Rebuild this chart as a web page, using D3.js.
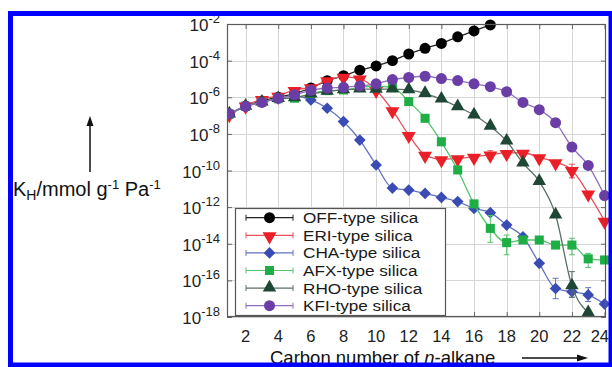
<!DOCTYPE html>
<html>
<head>
<meta charset="utf-8">
<script src="https://cdn.jsdelivr.net/npm/d3@7"></script>
<style>
  html, body { margin: 0; padding: 0; background: #fff; }
  svg { display: block; }
  text { font-family: "Liberation Sans", Arial, Helvetica, sans-serif; }
</style>
</head>
<body>
<svg id="chart" width="612" height="367"></svg>
<script>
// Carbon number of the n-alkane
const carbon = d3.range(1, 25);

// Henry coefficients K_H (mmol g^-1 Pa^-1) per framework type
const offValues = [1.2e-7, 3.3e-7, 6.3e-7, 1.0e-6, 1.6e-6, 3.2e-6, 8.0e-6, 1.5e-5, 3.0e-5, 5.1e-5, 1.0e-4, 2.3e-4, 4.7e-4, 8.7e-4, 2.0e-3, 4.2e-3, 8.9e-3];
const eriValues = [1.2e-7, 3.5e-7, 7.9e-7, 1.2e-6, 2.5e-6, 3.5e-6, 8.3e-6, 1.3e-5, 1.05e-5, 2.5e-6, 1.95e-7, 8.7e-9, 7.1e-10, 4.1e-10, 4.7e-10, 5.6e-10, 7.4e-10, 9.1e-10, 9.3e-10, 5.2e-10, 2.8e-10, 1.07e-10, 5.6e-12, 1.8e-13];
const chaValues = [1.2e-7, 3.2e-7, 5.4e-7, 8.7e-7, 1.2e-6, 7.1e-7, 2.5e-7, 4.7e-8, 4.6e-9, 2.0e-10, 1.1e-11, 8.5e-12, 5.6e-12, 3.4e-12, 2.0e-12, 8.5e-13, 5.0e-13, 1.05e-13, 2.4e-14, 8.5e-16, 3.6e-17, 2.4e-17, 1.6e-17, 5.1e-18];
const afxValues = [1.2e-7, 3.2e-7, 5.4e-7, 8.3e-7, 8.9e-7, 1.6e-6, 2.3e-6, 2.5e-6, 3.5e-6, 4.0e-6, 3.5e-6, 5.8e-7, 7.1e-8, 3.7e-9, 1.07e-10, 1.5e-12, 6.9e-14, 1.15e-14, 1.6e-14, 1.6e-14, 8.5e-15, 8.5e-15, 1.5e-15, 1.3e-15];
const rhoValues = [1.2e-7, 3.2e-7, 5.4e-7, 8.3e-7, 9.3e-7, 1.5e-6, 2.1e-6, 2.5e-6, 2.8e-6, 2.7e-6, 2.8e-6, 2.5e-6, 1.6e-6, 7.8e-7, 3.0e-7, 1.07e-7, 2.6e-8, 4.0e-9, 2.5e-10, 2.5e-11, 3.7e-13, 5.0e-17, 1.7e-18];
const kfiValues = [1.26e-7, 3.2e-7, 5.2e-7, 8.7e-7, 1.35e-6, 2.4e-6, 3.2e-6, 3.5e-6, 4.2e-6, 5.4e-6, 9.3e-6, 1.2e-5, 1.4e-5, 1.05e-5, 8.1e-6, 5.4e-6, 3.8e-6, 2.0e-6, 5.2e-7, 2.1e-7, 4.1e-8, 1.9e-9, 1.9e-10, 4.3e-12];

// Error bars: [carbon number, lower, upper]
const eriErrors = [[17, 4.5e-10, 1.2e-9], [22, 4e-11, 2.2e-10]];
const chaErrors = [[21, 1.0e-17, 1.3e-16], [22, 1.2e-17, 6e-17], [23, 7e-18, 4e-17]];
const afxErrors = [[17, 1.2e-14, 3.5e-13], [18, 2.5e-15, 3e-14], [22, 2.5e-15, 2e-14], [23, 5e-16, 3e-15]];
const rhoErrors = [[22, 1.2e-17, 3e-16]];

const seriesNames = ["OFF-type silica", "ERI-type silica", "CHA-type silica", "AFX-type silica", "RHO-type silica", "KFI-type silica"];
const seriesValues = [offValues, eriValues, chaValues, afxValues, rhoValues, kfiValues];
const seriesErrors = [[], eriErrors, chaErrors, afxErrors, rhoErrors, []];
const seriesColors = ["#000000", "#ea1f27", "#3a4cb4", "#1fae45", "#1f4736", "#6a3ea6"];
const lineColors = ["#222222", "#e8505a", "#6272c0", "#52c46a", "#5c6f66", "#8f70bf"];
const seriesShapes = ["circle", "triangleDown", "diamond", "square", "triangleUp", "circle"];

// Axis ticks
const xTicks = d3.range(2, 25, 2);
const yExponents = [-2, -4, -6, -8, -10, -12, -14, -16, -18];

const svg = d3.select("#chart");
const plot = { left: 227, right: 606, top: 24, bottom: 317 };

const x = d3.scaleLinear().domain([0.86, 24.09]).range([plot.left, plot.right]);
const y = d3.scaleLog().domain([1e-18, 1e-2]).range([plot.bottom, plot.top]);

// Grid
const grid = svg.append("g").attr("stroke", "#d6d6d6").attr("stroke-width", 1);
grid.selectAll("line.gx").data(xTicks).join("line")
  .attr("x1", d => Math.round(x(d)) + 0.5).attr("x2", d => Math.round(x(d)) + 0.5)
  .attr("y1", plot.top).attr("y2", plot.bottom);
grid.selectAll("line.gy").data(yExponents).join("line")
  .attr("y1", d => Math.round(y(Math.pow(10, d))) + 0.5).attr("y2", d => Math.round(y(Math.pow(10, d))) + 0.5)
  .attr("x1", plot.left).attr("x2", plot.right);

// Axes with inward ticks
const xAxisBottom = d3.axisBottom(x).tickValues(xTicks).tickSize(-5).tickFormat("");
const xAxisTop = d3.axisTop(x).tickValues(xTicks).tickSize(-5).tickFormat("");
const yAxisLeft = d3.axisLeft(y).tickValues(yExponents.map(e => Math.pow(10, e))).tickSize(-5).tickFormat("");
const yAxisRight = d3.axisRight(y).tickValues(yExponents.map(e => Math.pow(10, e))).tickSize(-5).tickFormat("");

function styleAxis(g) {
  g.select(".domain").remove();
  g.selectAll(".tick line").attr("stroke", "#666");
}
svg.append("g").attr("transform", `translate(0,${plot.bottom})`).call(xAxisBottom).call(styleAxis);
svg.append("g").attr("transform", `translate(0,${plot.top})`).call(xAxisTop).call(styleAxis);
svg.append("g").attr("transform", `translate(${plot.left},0)`).call(yAxisLeft).call(styleAxis);
svg.append("g").attr("transform", `translate(${plot.right},0)`).call(yAxisRight).call(styleAxis);

// Tick labels (the last one is kept inside the border)
const lastTick = xTicks[xTicks.length - 1];
svg.append("g").selectAll("text").data(xTicks).join("text")
  .attr("x", d => d === lastTick ? 609 : x(d)).attr("y", 342)
  .attr("text-anchor", d => d === lastTick ? "end" : "middle")
  .attr("font-size", 16.5).attr("fill", "#222")
  .text(d => d);

const yLab = svg.append("g").selectAll("text").data(yExponents).join("text")
  .attr("x", 220).attr("y", d => y(Math.pow(10, d)) + 7)
  .attr("text-anchor", "end").attr("font-size", 17).attr("fill", "#222");
yLab.append("tspan").text("10");
yLab.append("tspan").attr("dy", -8).attr("font-size", 13).text(d => "-" + Math.abs(d));

// Clip to plot frame
svg.append("clipPath").attr("id", "plotClip").append("rect")
  .attr("x", plot.left).attr("y", plot.top - 6)
  .attr("width", plot.right - plot.left + 6).attr("height", plot.bottom - plot.top + 6);

const symbolFor = {
  circle: d3.symbolCircle,
  triangleDown: d3.symbolTriangle,
  diamond: d3.symbolSquare,
  square: d3.symbolSquare,
  triangleUp: d3.symbolTriangle
};
const symbolSize = { circle: 95, triangleDown: 85, diamond: 68, square: 82, triangleUp: 78 };
function markerPath(shape) {
  return d3.symbol().type(symbolFor[shape]).size(symbolSize[shape])();
}
function markerTransform(shape, px, py) {
  if (shape === "triangleDown") return `translate(${px},${py + 1}) rotate(180)`;
  if (shape === "diamond") return `translate(${px},${py}) rotate(45)`;
  if (shape === "triangleUp") return `translate(${px},${py - 0.5})`;
  return `translate(${px},${py})`;
}

const line = d3.line()
  .x(d => x(d.c))
  .y(d => y(d.v))
  .curve(d3.curveMonotoneX);

const series = seriesNames.map((name, i) => ({
  name,
  color: seriesColors[i],
  lineColor: lineColors[i],
  shape: seriesShapes[i],
  points: seriesValues[i].map((v, j) => ({ c: carbon[j], v })),
  errors: seriesErrors[i]
}));

const plotG = svg.append("g").attr("clip-path", "url(#plotClip)");

series.forEach(s => {
  const g = plotG.append("g");
  g.append("path").datum(s.points)
    .attr("d", line).attr("fill", "none")
    .attr("stroke", s.lineColor).attr("stroke-width", 1.3);
  const eg = g.append("g").attr("stroke", s.lineColor).attr("stroke-width", 1);
  eg.selectAll("line.bar").data(s.errors).join("line")
    .attr("x1", d => x(d[0])).attr("x2", d => x(d[0]))
    .attr("y1", d => y(d[1])).attr("y2", d => y(d[2]));
  eg.selectAll("line.capLo").data(s.errors).join("line")
    .attr("x1", d => x(d[0]) - 3).attr("x2", d => x(d[0]) + 3)
    .attr("y1", d => y(d[1])).attr("y2", d => y(d[1]));
  eg.selectAll("line.capHi").data(s.errors).join("line")
    .attr("x1", d => x(d[0]) - 3).attr("x2", d => x(d[0]) + 3)
    .attr("y1", d => y(d[2])).attr("y2", d => y(d[2]));
  g.selectAll("path.mk").data(s.points).join("path")
    .attr("d", markerPath(s.shape))
    .attr("transform", d => markerTransform(s.shape, x(d.c), y(d.v)))
    .attr("fill", s.color);
});

// Frame
svg.append("rect")
  .attr("x", plot.left + 0.5).attr("y", plot.top + 0.5)
  .attr("width", plot.right - plot.left - 1).attr("height", plot.bottom - plot.top - 1)
  .attr("fill", "none").attr("stroke", "#5a5a5a").attr("stroke-width", 1.2);

// Legend
const legend = svg.append("g");
legend.append("rect")
  .attr("x", 235.5).attr("y", 208.5).attr("width", 210).attr("height", 107)
  .attr("fill", "#fff").attr("stroke", "#555").attr("stroke-width", 1.2);
const legendRows = legend.selectAll("g.row").data(series).join("g")
  .attr("transform", (d, i) => `translate(0,${217.7 + i * 17.6})`);
legendRows.append("line")
  .attr("x1", 246).attr("x2", 293).attr("y1", 0).attr("y2", 0)
  .attr("stroke", d => d.lineColor).attr("stroke-width", 1.2);
legendRows.append("line")
  .attr("x1", 246).attr("x2", 246).attr("y1", -3).attr("y2", 3)
  .attr("stroke", d => d.lineColor);
legendRows.append("line")
  .attr("x1", 293).attr("x2", 293).attr("y1", -3).attr("y2", 3)
  .attr("stroke", d => d.lineColor);
legendRows.append("path")
  .attr("d", d => markerPath(d.shape))
  .attr("transform", d => markerTransform(d.shape, 269.5, 0))
  .attr("fill", d => d.color);
// Labels set slightly wide so the compact rows keep the full text width
legendRows.append("text")
  .attr("transform", "translate(303,5.5) scale(1.13,1)")
  .attr("font-size", 15.2).attr("fill", "#1a1a1a")
  .text(d => d.name);

// Y axis title with upward arrow
svg.append("line")
  .attr("x1", 90).attr("x2", 90).attr("y1", 172).attr("y2", 124)
  .attr("stroke", "#111").attr("stroke-width", 1.5);
svg.append("path")
  .attr("d", "M90,116 L86.5,126 L93.5,126 Z").attr("fill", "#111");
const yTitle = svg.append("text").attr("x", 13).attr("y", 196)
  .attr("font-size", 20).attr("fill", "#111");
yTitle.append("tspan").text("K");
yTitle.append("tspan").attr("dy", 4).attr("font-size", 14).text("H");
yTitle.append("tspan").attr("dy", -4).text("/mmol g");
yTitle.append("tspan").attr("dy", -7).attr("font-size", 13).text("-1");
yTitle.append("tspan").attr("dy", 7).text(" Pa");
yTitle.append("tspan").attr("dy", -7).attr("font-size", 13).text("-1");

// X axis title with rightward arrow
const xTitle = svg.append("text").attr("x", 270).attr("y", 364)
  .attr("font-size", 18.5).attr("fill", "#111");
xTitle.append("tspan").text("Carbon number of ");
xTitle.append("tspan").attr("font-style", "italic").text("n");
xTitle.append("tspan").text("-alkane");
svg.append("line")
  .attr("x1", 522).attr("x2", 578).attr("y1", 358).attr("y2", 358)
  .attr("stroke", "#111").attr("stroke-width", 1.5);
svg.append("path")
  .attr("d", "M588,358 L577,354.5 L577,361.5 Z").attr("fill", "#111");

// Outer border
svg.append("rect")
  .attr("x", 10.5).attr("y", 13.5).attr("width", 600.5).attr("height", 351.5)
  .attr("fill", "none").attr("stroke", "#0000ff").attr("stroke-width", 5);
</script>
</body>
</html>
